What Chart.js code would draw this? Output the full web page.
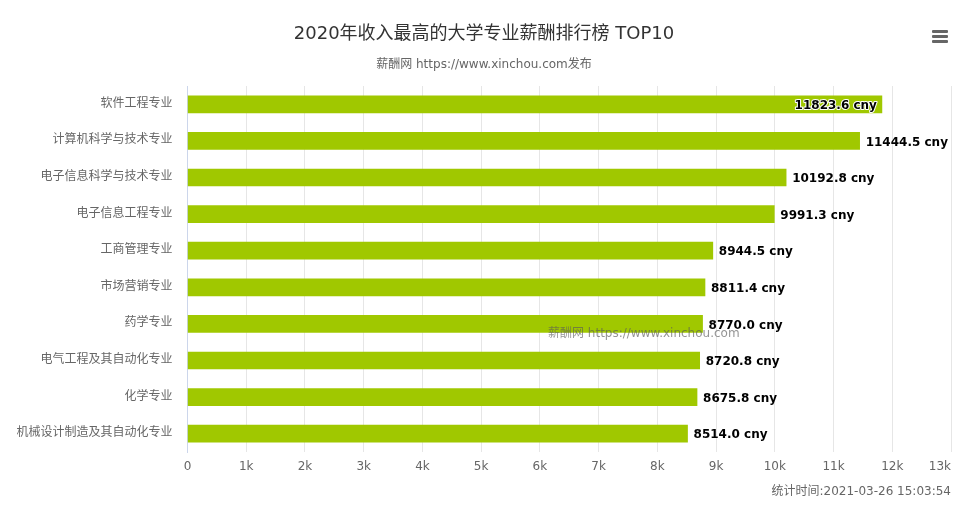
<!DOCTYPE html>
<html>
<head>
<meta charset="utf-8">
<style>
    html, body { margin: 0; padding: 0; background: #fff; }
    #box { position: relative; width: 976px; height: 508px; overflow: hidden; }
    canvas { display: block; }
    .txt { position: absolute; font: 12px "DejaVu Sans", "Noto Sans CJK SC", sans-serif; white-space: nowrap; }
    #credit { right: 25px; top: 481px; color: #666; }
    #mark { left: 548px; top: 323px; color: rgba(90, 90, 90, 0.65); }
    #menu { position: absolute; left: 932px; top: 30px; width: 16px; }
    #menu div { height: 3px; background: #666; margin-bottom: 2px; border-radius: 1px; }
</style>
</head>
<body>
<div id="box">
    <canvas id="salaryChart" width="976" height="508"></canvas>
    <div class="txt" id="mark">薪酬网 https://www.xinchou.com</div>
    <div class="txt" id="credit">统计时间:2021-03-26 15:03:54</div>
    <div id="menu"><div></div><div></div><div></div></div>
</div>
<script src="https://cdn.jsdelivr.net/npm/chart.js@4"></script>
<script>
const majors = ["软件工程专业", "计算机科学与技术专业", "电子信息科学与技术专业", "电子信息工程专业", "工商管理专业",
    "市场营销专业", "药学专业", "电气工程及其自动化专业", "化学专业", "机械设计制造及其自动化专业"];
const salaries = [11823.6, 11444.5, 10192.8, 9991.3, 8944.5, 8811.4, 8770.0, 8720.8, 8675.8, 8514.0];

const latinCjk = '"DejaVu Sans", "Noto Sans CJK SC", sans-serif';

// подписи значений: если не влезает справа — внутрь столбца
const barLabels = {
    id: "barLabels",
    afterDatasetsDraw(chart) {
        const ctx = chart.ctx;
        const bars = chart.getDatasetMeta(0).data;
        ctx.save();
        ctx.font = 'bold 12px "DejaVu Sans", sans-serif';
        ctx.textBaseline = "middle";
        ctx.lineJoin = "round";
        bars.forEach((bar, i) => {
            const text = salaries[i].toFixed(1) + " cny";
            const w = ctx.measureText(text).width;
            const inside = bar.x + 6 + w > chart.chartArea.right;
            const x = inside ? bar.x - 5 : bar.x + 6;
            ctx.textAlign = inside ? "right" : "left";
            ctx.strokeStyle = "#fff";
            ctx.lineWidth = 2;
            if (inside) ctx.strokeText(text, x, bar.y + 1.5);
            ctx.fillStyle = "#000";
            ctx.fillText(text, x, bar.y + 1.5);
        });
        ctx.restore();
    }
};

// последняя подпись оси прижата к правому краю
const lastTick = {
    id: "lastTick",
    afterDraw(chart) {
        const ctx = chart.ctx;
        const sx = chart.scales.x;
        ctx.save();
        ctx.font = "12px " + latinCjk;
        ctx.fillStyle = "#666";
        ctx.textAlign = "right";
        ctx.textBaseline = "middle";
        ctx.fillText(sx.max / 1000 + "k", chart.chartArea.right, 467);
        ctx.restore();
    }
};

new Chart(document.getElementById("salaryChart"), {
    type: "bar",
    data: {
        labels: majors,
        datasets: [{
            data: salaries,
            backgroundColor: "#a0c800",
            barThickness: 17
        }]
    },
    plugins: [barLabels, lastTick],
    options: {
        indexAxis: "y",
        responsive: false,
        animation: false,
        layout: { padding: { left: 17, right: 25, top: 0, bottom: 0 } },
        plugins: {
            legend: { display: false },
            tooltip: { enabled: false },
            title: {
                display: true,
                text: "2020年收入最高的大学专业薪酬排行榜 TOP10",
                color: "#333",
                font: { family: latinCjk, size: 18, weight: "normal" },
                padding: { top: 24, bottom: 12 }
            },
            subtitle: {
                display: true,
                text: "薪酬网 https://www.xinchou.com发布",
                color: "#666",
                font: { family: latinCjk, size: 12, weight: "normal" },
                padding: { top: 0, bottom: 14 }
            }
        },
        scales: {
            x: {
                min: 0,
                max: 13000,
                afterFit(scale) { scale.height = 56; },
                border: { display: false },
                grid: {
                    drawTicks: false,
                    color: ctx => ctx.index === 0 ? "#ccd6eb" : "#e6e6e6"
                },
                ticks: {
                    stepSize: 1000,
                    maxRotation: 0,
                    autoSkip: false,
                    padding: 8,
                    color: "#666",
                    font: { family: latinCjk, size: 12 },
                    callback: v => v === 0 ? "0" : (v === 13000 ? "" : v / 1000 + "k")
                }
            },
            y: {
                afterFit(scale) { scale.width = 170.5; },
                border: { color: "#ccd6eb" },
                grid: { display: false },
                ticks: {
                    padding: 7,
                    labelOffset: -2,
                    autoSkip: false,
                    color: "#666",
                    font: { family: '"Noto Sans CJK SC", sans-serif', size: 12 }
                }
            }
        }
    }
});
</script>
</body>
</html>
